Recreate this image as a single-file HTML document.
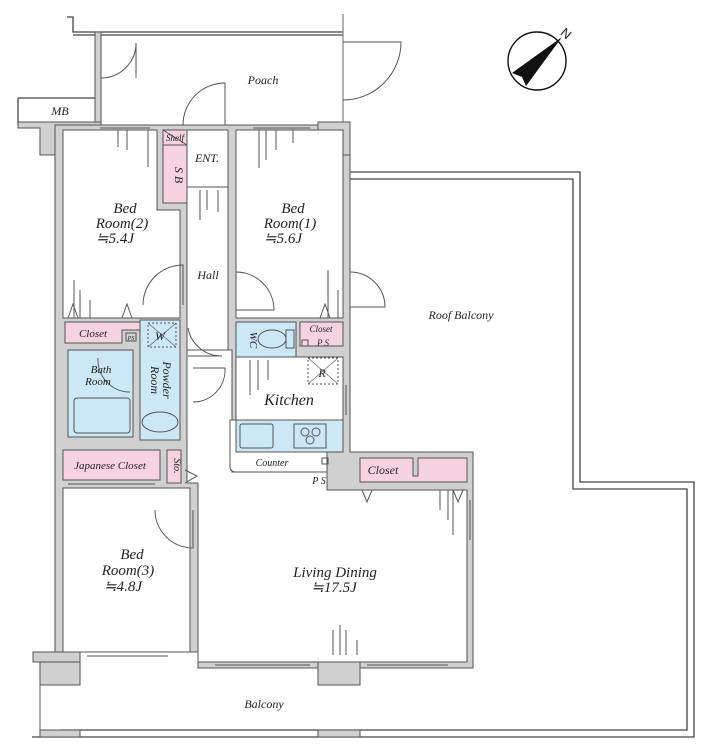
<!DOCTYPE html>
<html><head><meta charset="utf-8"><style>
html,body{margin:0;padding:0;background:#fff}
svg{display:block}
text{font-family:"Liberation Serif",serif;font-style:italic;fill:#222}
</style></head><body>
<svg width="713" height="756" viewBox="0 0 713 756" xmlns="http://www.w3.org/2000/svg">
<g fill="none" stroke="#444" stroke-width="1.3">
<polyline points="350,172 580,172 580,482 694,482 694,737 32,737"/>
<polyline points="350,179 573,179 573,489 687,489 687,730 60,730"/>
<polyline points="67,17 73,17 73,32 343,32"/>
<line x1="73" y1="35" x2="343" y2="35"/>
<line x1="343" y1="14" x2="343" y2="125" stroke="#888"/>
<polyline points="18,98 95,98"/>
<polyline points="18,98 18,125"/>
<line x1="40" y1="685" x2="40" y2="730" stroke="#888"/>
</g>
<g fill="#d0d0d0" stroke="#555" stroke-width="1">
<rect x="95" y="32" width="6" height="95"/>
<polygon points="18,122 101,122 101,128 80,128 80,155 63,155 63,652 55,652 55,155 40,155 40,128 18,128"/>
<polygon points="55,125 350,125 350,452 473,452 473,668 198,668 198,652 55,652"/>
<rect x="318" y="122" width="32" height="33"/>
<rect x="33" y="652" width="47" height="10"/>
<rect x="40" y="662" width="40" height="23"/>
<rect x="318" y="652" width="42" height="33"/>
<rect x="40" y="730" width="40" height="7"/>
<rect x="318" y="730" width="42" height="7"/>
</g>
<g stroke="#555" stroke-width="1">
<polygon fill="#fff" points="63,130 157,130 157,210 180,210 180,318 63,318"/>
<rect fill="#fff" x="236" y="130" width="107" height="188"/>
<rect fill="#fff" x="187" y="130" width="41" height="280"/>
<rect fill="#fff" x="236" y="357" width="107" height="63"/>
<polygon fill="#fff" points="187,350 232,350 232,472 327,472 327,490 467,490 467,662 198,662 198,483 187,483"/>
<path fill="#fff" d="M230,420 H327 V472 H236 Q230,472 230,466 Z"/>
<rect fill="#fff" x="63" y="488" width="127" height="164"/>
<rect fill="#f7d3e2" x="163" y="130" width="24" height="73"/>
<polygon fill="#f7d3e2" points="65,322 140,322 140,330 122,330 122,343 65,343"/>
<rect fill="#f7d3e2" x="300" y="322" width="43" height="24"/>
<rect fill="#f7d3e2" x="63" y="450" width="97" height="30"/>
<rect fill="#f7d3e2" x="167" y="450" width="14" height="33"/>
<polygon fill="#f7d3e2" points="360,458 413,458 413,476 418,476 418,458 467,458 467,482 360,482"/>
<rect fill="#cce8f7" x="140" y="320" width="40" height="120"/>
<rect fill="#cce8f7" x="68" y="350" width="65" height="87"/>
<rect fill="#cce8f7" x="236" y="322" width="60" height="35"/>
<rect fill="#cce8f7" x="236" y="420" width="107" height="32"/>
</g>
<g fill="none" stroke="#555" stroke-width="1">
<rect x="74" y="398" width="56" height="35" rx="3"/>
<ellipse cx="160" cy="422" rx="18" ry="10"/>
<ellipse cx="272" cy="339" rx="14" ry="9"/>
<rect x="286" y="330" width="8" height="18"/>
<rect x="240" y="424" width="33" height="24" rx="2"/>
<rect x="294" y="424" width="32" height="24"/>
<circle cx="305" cy="432" r="4"/><circle cx="316" cy="432" r="4"/><circle cx="310" cy="440" r="4"/>
<rect x="148" y="323" width="28" height="24" stroke-dasharray="2,2"/>
<path d="M148,323 L176,347 M176,323 L148,347" stroke-width="0.6"/>
<rect x="308" y="358" width="30" height="26" stroke-dasharray="2,2"/>
<path d="M308,358 L338,384 M338,358 L308,384" stroke-width="0.6"/>
<line x1="163" y1="130" x2="187" y2="145"/><line x1="163" y1="145" x2="187" y2="145"/>
<line x1="187" y1="187" x2="228" y2="187"/>
<rect x="302" y="340" width="6" height="6"/><rect x="126" y="333" width="10" height="8"/>
<rect x="322" y="458" width="6" height="6"/>
<path d="M101,78 A35,35 0 0 0 136,43 V78"/>
<path d="M183,125 A42,42 0 0 1 225,83 V125"/>
<path d="M343,100 A58,58 0 0 0 401,42 H343"/>
<path d="M143,305 A40,40 0 0 1 183,265 V305"/>
<path d="M236,272 A38,38 0 0 1 274,310 H236"/>
<path d="M350,272 A35,35 0 0 1 385,307 H350"/>
<path d="M155,510 A38,38 0 0 0 193,548 V510"/>
<path d="M188,328 A34,34 0 0 0 222,356 H188"/>
<path d="M193,402 A32,32 0 0 0 225,368 H193"/>
<path d="M98,358 A32,32 0 0 0 130,392"/>
<path d="M68,318 L73,304 L78,318 M122,318 L127,304 L132,318 M320,318 L325,304 L330,318 M362,490 L367,502 L372,490 M453,490 L458,502 L463,490 M185,470 L197,476 L185,483"/>
<path d="M127,130 V150 M148,130 V167 M118,130 V147 M259,130 V168 M266,130 V160 M276,130 V150 M293,130 V143 M200,190 V220 M207,190 V210 M218,190 V212 M74,318 V280 M80,318 V290 M90,318 V300 M328,318 V270 M338,318 V290 M250,360 V395 M258,360 V390 M268,360 V380 M333,655 V630 M340,655 V625 M346,655 V630 M357,655 V640 M440,490 V510 M448,490 V520 M453,490 V535"/>
<path d="M100,125 H150 M100,128 H150 M253,125 H310 M253,128 H310 M87,652 H168 M87,656 H168 M215,662 H310 M215,665 H310 M367,662 H448 M367,665 H448 M68,480 H155 M68,484 H155 M467,500 V540 M470,500 V540 M343,385 V415 M346,385 V415"/>
</g>
<circle cx="537" cy="61" r="29" fill="none" stroke="#111" stroke-width="1.4"/>
<polygon points="562,37 512,73 522,77 526,86" fill="#111"/>
<text x="561" y="38" font-size="13" transform="rotate(40 566 34)" style="font-style:normal;font-family:'Liberation Sans',sans-serif">N</text>
<g font-size="12" text-anchor="middle">
<text x="263" y="84">Poach</text>
<text x="60" y="115">MB</text>
<text x="175" y="141" font-size="9">Shelf</text>
<text x="175" y="175" transform="rotate(90 175 175)">S B</text>
<text x="207" y="162">ENT.</text>
<text x="125" y="213" font-size="15">Bed</text>
<text x="122" y="228" font-size="15">Room(2)</text>
<text x="115" y="243" font-size="15">≒5.4J</text>
<text x="293" y="213" font-size="15">Bed</text>
<text x="290" y="228" font-size="15">Room(1)</text>
<text x="283" y="243" font-size="15">≒5.6J</text>
<text x="208" y="279">Hall</text>
<text x="461" y="319">Roof Balcony</text>
<text x="93" y="337" font-size="11">Closet</text>
<text x="131" y="340" font-size="6">PS</text>
<text x="160" y="340">W</text>
<text x="321" y="332" font-size="9">Closet</text>
<text x="323" y="346" font-size="9">P S</text>
<text x="250" y="340" font-size="11" transform="rotate(90 250 340)">WC</text>
<text x="101" y="373" font-size="11">Bath</text>
<text x="98" y="385" font-size="11">Room</text>
<text x="163" y="380" font-size="12" transform="rotate(90 163 380)">Powder</text>
<text x="151" y="380" font-size="12" transform="rotate(90 151 380)">Room</text>
<text x="322" y="377">R</text>
<text x="289" y="405" font-size="16">Kitchen</text>
<text x="272" y="466" font-size="10">Counter</text>
<text x="319" y="484" font-size="10">P S</text>
<text x="110" y="469" font-size="11">Japanese Closet</text>
<text x="174" y="466" font-size="10" transform="rotate(90 174 466)">Sto.</text>
<text x="383" y="474" font-size="12">Closet</text>
<text x="132" y="559" font-size="15">Bed</text>
<text x="128" y="575" font-size="15">Room(3)</text>
<text x="123" y="591" font-size="15">≒4.8J</text>
<text x="335" y="577" font-size="15">Living Dining</text>
<text x="334" y="592" font-size="15">≒17.5J</text>
<text x="264" y="708">Balcony</text>
</g>
</svg>
</body></html>
